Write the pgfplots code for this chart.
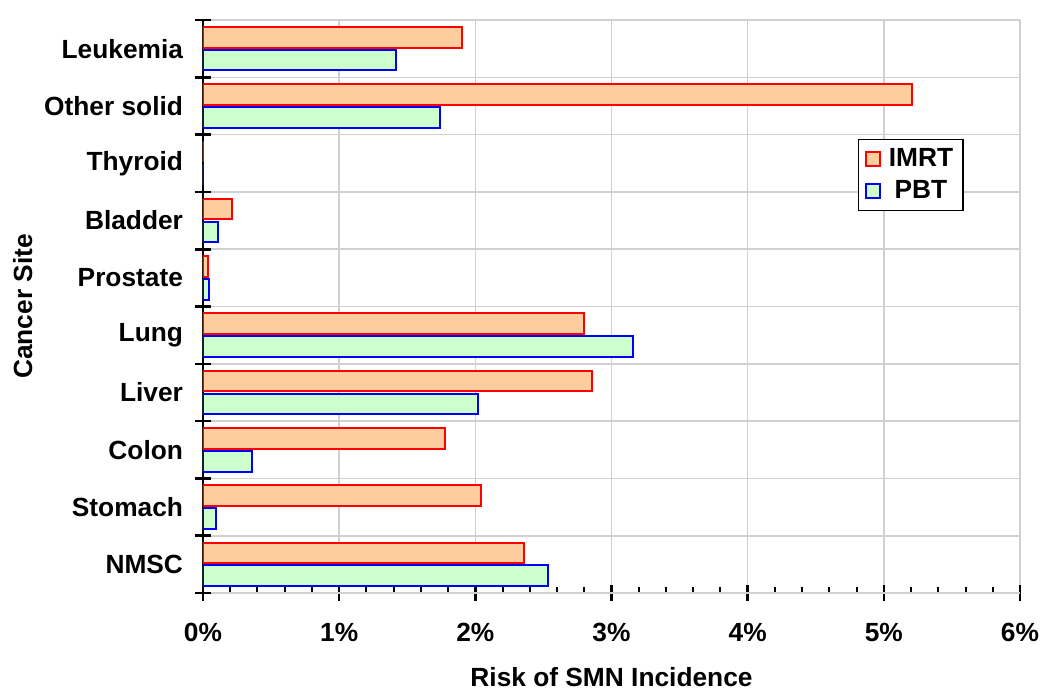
\documentclass[border=0pt]{standalone}
\usepackage{fontspec}
\setmainfont{Liberation Sans}
\usepackage{pgfplots}
\pgfplotsset{compat=1.18}

\definecolor{imrtfill}{RGB}{253,205,158}
\definecolor{pbtfill}{RGB}{204,255,204}
\definecolor{gridgray}{RGB}{208,208,208}

% values in percent, categories from bottom (0) to top (9)
\pgfplotstableread{
y imrt pbt
0 2.36 2.53
1 2.04 0.093
2 1.78 0.36
3 2.86 2.02
4 2.80 3.16
5 0.034 0.046
6 0.215 0.11
7 0 0
8 5.21 1.74
9 1.90 1.42
}\smndata

\begin{document}
\begin{tikzpicture}
\useasboundingbox (-101.5bp,-51.5bp) rectangle (423.5bp,296.5bp);
\begin{axis}[
    scale only axis,
    width=408.5bp, height=286.5bp,
    font=\fontsize{13.2}{15}\selectfont\bfseries,
    xbar, bar width=0.36,
    xmin=0, xmax=6, ymin=-0.5, ymax=9.5,
    axis x line*=bottom, axis y line*=left,
    axis line style={line width=1.3bp, black},
    tick align=center,
    major tick length=8bp, minor tick length=3bp,
    tick style={line width=1.3bp, black},
    xtick={0,1,2,3,4,5,6},
    xticklabels={0\%,1\%,2\%,3\%,4\%,5\%,6\%},
    minor x tick num=4,
    minor x tick style={yshift=1.5bp, line width=1bp},
    ytick={0,...,9},
    yticklabels={NMSC,Stomach,Colon,Liver,Lung,Prostate,Bladder,Thyroid,Other solid,Leukemia},
    major y tick style={draw=none},
    extra y ticks={-0.5,0.5,...,9.5},
    extra y tick labels={},
    extra y tick style={major y tick style={draw=black, line width=1.3bp}, grid=major},
    xmajorgrids,
    major grid style={gridgray, line width=0.8bp},
    xticklabel style={yshift=-7.5bp},
    yticklabel style={xshift=-2.5bp},
    xlabel={Risk of SMN Incidence},
    ylabel={Cancer Site},
    xlabel style={yshift=-6bp},
    ylabel style={yshift=-9bp},
    legend style={at={(0.802,0.792)}, anchor=north west, draw=black, line width=0.6bp,
        font=\fontsize{13.2}{15}\selectfont\bfseries, row sep=1.5bp, inner xsep=3bp, inner ysep=2.5bp},
    legend image code/.code={\draw[#1, line width=1bp] (0bp,-3.5bp) rectangle (7bp,3.5bp);},
]
\addplot[draw=red, fill=imrtfill, line width=1bp, bar shift=0.2] table[x=imrt, y=y] {\smndata};
\addlegendentry{\hspace{2bp}IMRT}
\addplot[draw=blue, fill=pbtfill, line width=1bp, bar shift=-0.2] table[x=pbt, y=y] {\smndata};
\addlegendentry{\hspace{2bp}PBT}
\end{axis}
\end{tikzpicture}
\end{document}
